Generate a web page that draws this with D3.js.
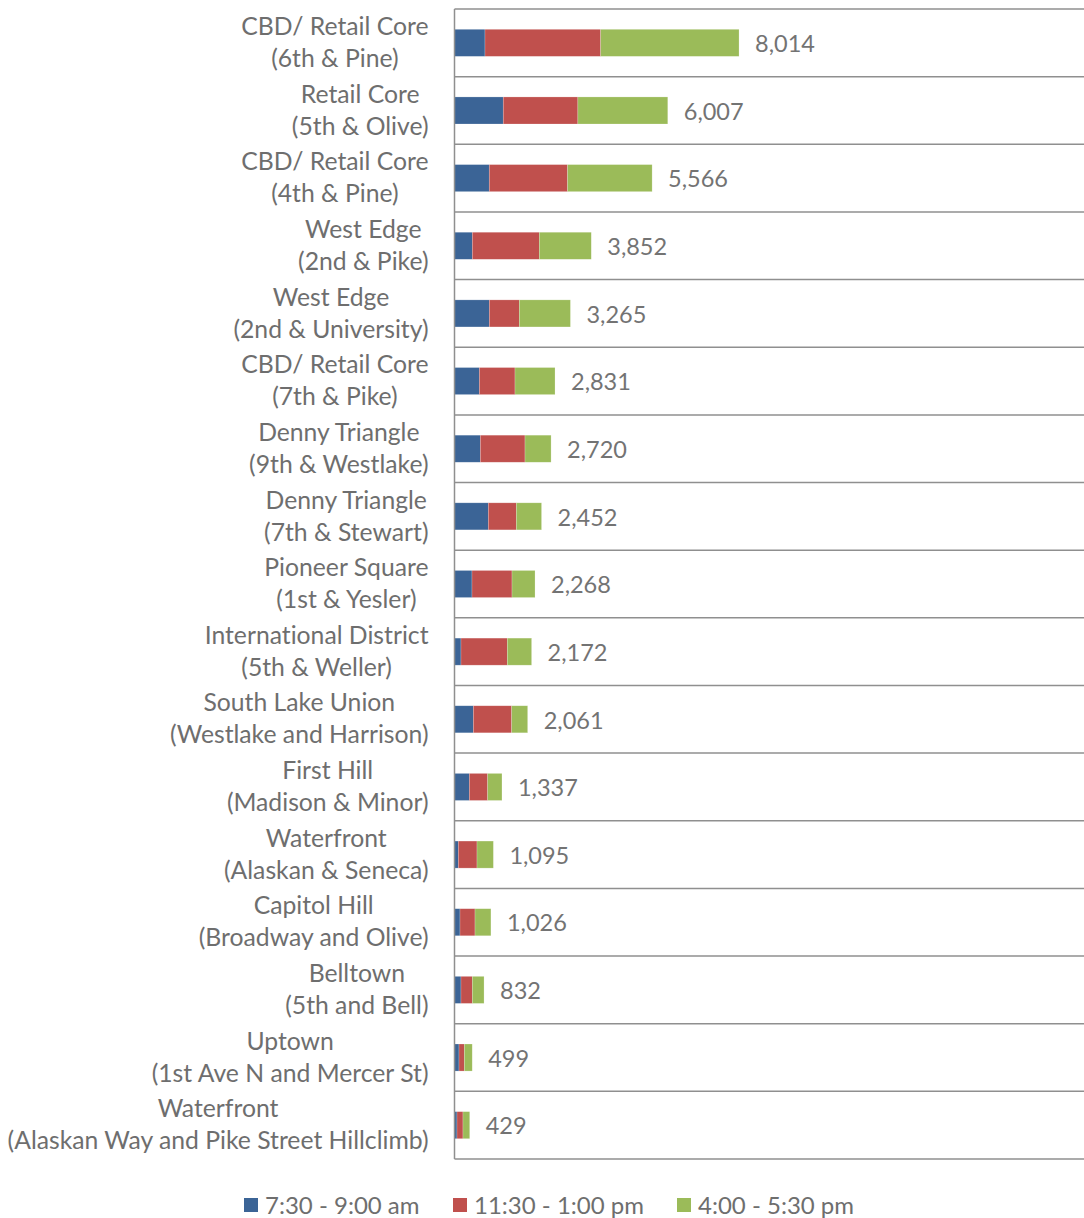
<!DOCTYPE html>
<html>
<head>
<meta charset="utf-8">
<script src="https://cdn.jsdelivr.net/npm/d3@7"></script>
<style>
  html, body { margin: 0; padding: 0; background: #fff; }
  svg text { font-family: Lato, "Open Sans", sans-serif; font-variant-ligatures: none; font-feature-settings: "liga" 0; }
</style>
</head>
<body>
<svg id="chart" width="1084" height="1218"></svg>
<script>
const categories = [
  ["CBD/ Retail Core", "(6th & Pine)"],
  ["Retail Core", "(5th & Olive)"],
  ["CBD/ Retail Core", "(4th & Pine)"],
  ["West Edge", "(2nd & Pike)"],
  ["West Edge", "(2nd & University)"],
  ["CBD/ Retail Core", "(7th & Pike)"],
  ["Denny Triangle", "(9th & Westlake)"],
  ["Denny Triangle", "(7th & Stewart)"],
  ["Pioneer Square", "(1st & Yesler)"],
  ["International District", "(5th & Weller)"],
  ["South Lake Union", "(Westlake and Harrison)"],
  ["First Hill", "(Madison & Minor)"],
  ["Waterfront", "(Alaskan & Seneca)"],
  ["Capitol Hill", "(Broadway and Olive)"],
  ["Belltown", "(5th and Bell)"],
  ["Uptown", "(1st Ave N and Mercer St)"],
  ["Waterfront", "(Alaskan Way and Pike Street Hillclimb)"]
];
const seriesNames = ["7:30 - 9:00 am", "11:30 - 1:00 pm", "4:00 - 5:30 pm"];
const morning = [859, 1373, 979, 501, 980, 699, 727, 952, 493, 183, 530, 417, 107, 155, 183, 127, 70];
const midday  = [3259, 2102, 2206, 1887, 845, 1005, 1259, 789, 1127, 1304, 1081, 518, 527, 423, 318, 150, 169];
const evening = [3896, 2532, 2381, 1464, 1440, 1127, 734, 711, 648, 685, 450, 402, 461, 448, 331, 222, 190];
const totals  = [8014, 6007, 5566, 3852, 3265, 2831, 2720, 2452, 2268, 2172, 2061, 1337, 1095, 1026, 832, 499, 429];
const colors = ["#3b6496", "#c0504d", "#9bbb59"];
const xMax = 17730;

(function () {
const svg = d3.select("#chart");
const pLeft = 454.5, pRight = 1084, pTop = 9, pBottom = 1159;

const rows = categories.map((c, i) => ({
  key: i, label: c, total: totals[i],
  s0: morning[i], s1: midday[i], s2: evening[i]
}));

const y = d3.scaleBand().domain(rows.map(d => d.key)).range([pTop, pBottom]).paddingInner(0.6).paddingOuter(0.3);
const x = d3.scaleLinear().domain([0, xMax]).range([pLeft, pRight]);

const stacked = d3.stack().keys(["s0", "s1", "s2"])(rows);

// category separators
const bounds = d3.range(rows.length + 1).map(i => pTop + i * (pBottom - pTop) / rows.length);
svg.append("g").selectAll("line").data(bounds).join("line")
  .attr("x1", pLeft).attr("x2", pRight)
  .attr("y1", d => d).attr("y2", d => d)
  .attr("stroke", "#8f8f8f").attr("stroke-width", 1.5);

// bars
svg.append("g").selectAll("g").data(stacked).join("g")
  .attr("fill", (d, i) => colors[i])
  .selectAll("rect").data(d => d).join("rect")
  .attr("x", d => x(d[0]))
  .attr("width", d => x(d[1]) - x(d[0]))
  .attr("y", d => y(d.data.key))
  .attr("height", y.bandwidth())
  .attr("stroke", "rgba(255,255,255,0.35)")
  .attr("stroke-width", 0.6);

// left axis line
svg.append("line").attr("x1", pLeft).attr("x2", pLeft).attr("y1", pTop).attr("y2", pBottom)
  .attr("stroke", "#8f8f8f").attr("stroke-width", 1.5);

// value labels
svg.append("g").selectAll("text").data(rows).join("text")
  .attr("x", d => x(d.total) + 16)
  .attr("y", d => y(d.key) + y.bandwidth() / 2 + 1)
  .attr("dy", "0.35em")
  .attr("fill", "#737373")
  .attr("font-size", 23.5)
  .text(d => d3.format(",")(d.total));

// category labels: two centered lines, block right-aligned
const labelRight = 428.5;
const lg = svg.append("g");
let fs = 23;
const groups = lg.selectAll("g").data(rows).join("g");
groups.each(function(d) {
  const g = d3.select(this);
  const cy = y(d.key) + y.bandwidth() / 2;
  g.selectAll("text").data(d.label).join("text")
    .attr("y", (t, j) => cy + (j === 0 ? -16.5 : 15.5))
    .attr("dy", "0.35em")
    .attr("text-anchor", "middle")
    .attr("fill", "#6e6e6e")
    .attr("font-size", fs)
    .text(t => t);
});
let maxW = 0;
lg.selectAll("text").each(function() { maxW = Math.max(maxW, this.getComputedTextLength()); });
fs = fs * 421 / maxW;
lg.selectAll("text").attr("font-size", fs);
groups.each(function() {
  const g = d3.select(this);
  let w = 0;
  g.selectAll("text").each(function() { w = Math.max(w, this.getComputedTextLength()); });
  g.selectAll("text").attr("x", labelRight - w / 2);
});

// legend
const legendItems = [
  { name: seriesNames[0], color: colors[0], x: 244 },
  { name: seriesNames[1], color: colors[1], x: 453 },
  { name: seriesNames[2], color: colors[2], x: 677 }
];
const leg = svg.append("g").selectAll("g").data(legendItems).join("g")
  .attr("transform", d => `translate(${d.x},1198)`);
leg.append("rect").attr("width", 14).attr("height", 14).attr("fill", d => d.color);
leg.append("text").attr("x", 21).attr("y", 7).attr("dy", "0.36em")
  .attr("font-size", 24).attr("fill", "#6e6e6e").text(d => d.name);
})();
</script>
</body>
</html>
